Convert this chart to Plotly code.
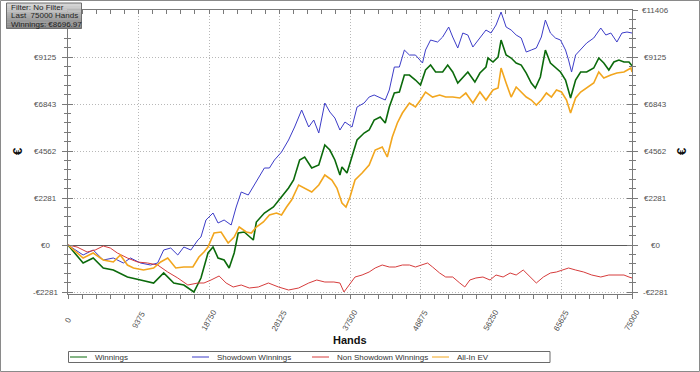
import plotly.graph_objects as go

# ---------------- data ----------------
hands_winnings = [0, 2009, 3348, 4688, 6027, 7902, 9643, 11384, 12723, 14062,
                  15402, 16741, 17679, 18616, 19286, 19955, 20759, 21429, 22098, 22634,
                  23437, 24643, 25045, 26116, 27321, 28393, 29330, 30000, 30804, 31473,
                  32411, 33348, 34152, 34822, 35491, 36161, 36429, 37098, 37768, 38438,
                  39375, 40045, 40714, 41518, 42188, 42723, 43393, 44063, 44732, 45402,
                  46205, 46875, 47545, 48214, 48884, 49821, 50491, 51161, 51830, 52500,
                  53170, 54107, 54777, 55580, 55848, 56518, 57188, 57589, 58259, 58929,
                  59598, 60268, 60938, 61607, 62143, 62813, 63482, 64152, 64821, 65491,
                  66161, 66563, 66830, 67500, 68170, 68973, 69911, 70580, 71250, 71920,
                  72589, 73259, 73929, 74598, 75000]
winnings = [0, -874, -631, -1116, -1213, -1553, -1699, -1844, -1359, -1844,
            -1941, -2281, -1601, -388, -97, -631, -728, -1116, -388, 582,
            631, 243, 1116, 1553, 1844, 2329, 2766, 3154, 4125, 4271,
            3737, 3882, 4853, 4610, 4125, 3397, 3785, 3494, 4271, 5096,
            5435, 5581, 6066, 6212, 5921, 6697, 7377, 7425, 8250, 8250,
            8007, 7765, 8493, 8735, 8396, 8396, 8735, 8396, 7862, 8153,
            8396, 7910, 8347, 8638, 9075, 8881, 9124, 9949, 9221, 9075,
            8832, 8735, 8347, 7862, 7619, 8153, 9463, 8832, 8590, 8396,
            8007, 7522, 7134, 8007, 8396, 8396, 8590, 9075, 8832, 8493,
            8881, 8978, 8881, 8881, 8697]

hands_showdown = [0, 2009, 3348, 4688, 6027, 7366, 8304, 9643, 10982, 11920,
                  12723, 13661, 14598, 15402, 16339, 17277, 17679, 18348, 19286, 19955,
                  20759, 21697, 22366, 23036, 23973, 24777, 25446, 26116, 26786, 27455,
                  28393, 29330, 30134, 31071, 32009, 32679, 33348, 34152, 34822, 35491,
                  36161, 36830, 37768, 38438, 39375, 40045, 40714, 41384, 42188, 42723,
                  43393, 44063, 44732, 45402, 46205, 47143, 47545, 48214, 49152, 49821,
                  50625, 51161, 51830, 52500, 53170, 53839, 54777, 55580, 56250, 56920,
                  57589, 58259, 58929, 59598, 60268, 60938, 61607, 62277, 62946, 63482,
                  64152, 64821, 65491, 66161, 66563, 66964, 67500, 68170, 68973, 69911,
                  70848, 71518, 72188, 72992, 73661, 74331, 75000]
showdown = [0, -485, -243, -728, -631, -874, -631, -874, -971, -874,
            -243, -146, -485, -97, -243, 243, 388, 1213, 1553, 1068,
            1213, 971, 1844, 2572, 2427, 2912, 3300, 3737, 3737, 4125,
            4513, 5096, 5727, 6552, 5727, 6066, 5435, 6891, 6454, 6163,
            5581, 5969, 5727, 6697, 6891, 7182, 7280, 7182, 7037, 7522,
            8638, 8638, 9463, 9221, 9221, 8832, 9463, 9949, 9852, 10094,
            10580, 10094, 9560, 10288, 10191, 9609, 10046, 10434, 10288, 10677,
            11307, 10580, 10434, 10191, 10046, 9366, 9463, 9560, 10094, 10919,
            10288, 10046, 9949, 9463, 8978, 8396, 9221, 9463, 9803, 10046,
            10531, 10191, 10288, 9852, 10288, 10337, 10288]

hands_nonshowdown = [0, 1205, 2545, 3616, 4688, 5625, 6563, 7902, 9241, 10580,
                     11920, 13259, 14598, 15938, 17277, 18081, 19018, 20090, 21027, 21965,
                     23036, 24107, 25313, 26652, 27991, 29331, 30670, 32009, 33081, 34152,
                     35358, 36161, 36697, 37366, 38170, 39108, 40045, 40849, 41786, 42724,
                     43527, 44465, 45402, 46206, 47143, 47813, 48483, 49420, 50224, 51161,
                     52099, 52768, 53438, 54242, 55179, 56117, 56920, 57858, 58795, 59599,
                     60536, 61474, 62277, 63215, 64152, 64956, 65894, 66563, 67501, 68572,
                     69644, 70849, 71920, 72992, 73929, 74599, 75000]
nonshowdown = [0, -97, -340, -243, -49, -146, -388, -631, -825, -874,
               -971, -1310, -1601, -1941, -1844, -1844, -1699, -1504, -1844, -2038,
               -1941, -2087, -2038, -1844, -2038, -2184, -2087, -1844, -1699, -1796,
               -1796, -1844, -2281, -1941, -1553, -1456, -1310, -1116, -971, -1068,
               -1068, -971, -971, -1068, -971, -874, -1068, -1359, -1553, -1553,
               -1844, -2038, -1699, -1601, -1553, -1699, -1456, -1553, -1359, -1456,
               -1213, -1553, -1844, -1553, -1359, -1310, -1213, -1116, -1213, -1310,
               -1456, -1553, -1456, -1456, -1456, -1553, -1601]

hands_allin = [0, 2009, 3348, 4688, 6027, 6964, 7902, 8705, 10045, 11384,
               12322, 13259, 14331, 15402, 16607, 17411, 18081, 18616, 19420, 20357,
               21295, 22098, 22768, 23706, 24375, 25045, 25982, 26786, 27724, 28393,
               29063, 29732, 30670, 31473, 32411, 33348, 34152, 35090, 35759, 36429,
               36965, 37500, 38170, 39108, 40045, 40849, 41786, 42456, 43125, 43795,
               44465, 45402, 46205, 46875, 47545, 48483, 49420, 50224, 51161, 52099,
               52902, 53840, 54777, 55580, 56518, 57188, 57589, 58259, 58929, 59598,
               60268, 60938, 61607, 62277, 62946, 63617, 64286, 64956, 65626, 66295,
               66830, 67500, 68170, 68973, 69911, 70580, 71250, 72188, 72992, 73929,
               74867, 75000]
allin_ev = [0, -631, -388, -728, -825, -485, -971, -1116, -1213, -1116,
            -825, -631, -1116, -1068, -1068, -582, -340, -97, 582, 631,
            97, 388, 874, 631, 582, 874, 1116, 1456, 1553, 1456,
            1844, 2184, 2912, 2766, 2572, 2912, 3397, 3154, 2766, 2038,
            1844, 2329, 3154, 3494, 3882, 4610, 4756, 4271, 5241, 5921,
            6406, 6891, 6697, 7037, 7425, 7182, 7280, 7182, 7182, 7134,
            7377, 6891, 7425, 7037, 7522, 7619, 8590, 7862, 7182, 7668,
            7425, 7182, 7037, 6794, 7037, 7377, 7182, 7522, 7425, 7037,
            6406, 7134, 7425, 7619, 7862, 8396, 8105, 8250, 8347, 8396,
            8590, 8396]

series_names = ["Winnings", "Showdown Winnings", "Non Showdown Winnings", "All-In EV"]
x_ticks = [0, 9375, 18750, 28125, 37500, 46875, 56250, 65625, 75000]
x_tick_labels = ["0", "9375", "18750", "28125", "37500", "46875", "56250", "65625", "75000"]
y_ticks = [-2281, 0, 2281, 4562, 6843, 9125, 11406]
y_tick_labels = ["-€2281", "€0", "€2281", "€4562", "€6843", "€9125", "€11406"]
info_lines = ["Filter: No Filter", "Last\u00a0 75000 Hands", "Winnings: €8696.97"]

# ---------------- styling ----------------
W, H = 700, 372
L, R, T, B = 68, 632, 10, 294          # plot area in pixels
Y_MIN, Y_MAX = -2378, 11406
COLORS = ["#0b6a0b", "#3c3cc8", "#d63c3c", "#f2a61e"]
WIDTHS = [1.6, 1.0, 1.0, 1.6]
AX = "#7a7a7a"
GRID = "#b8b8b8"
GRID_DASH = "1px,2px"
LBL = "#505050"
FONT = "Arial, Liberation Sans, sans-serif"


def px(x):
    return (x - L) / (R - L)


def py(y):
    return (B - y) / (B - T)


fig = go.Figure()
data = [(hands_winnings, winnings), (hands_showdown, showdown),
        (hands_nonshowdown, nonshowdown), (hands_allin, allin_ev)]
for (hx, hy), name, col, w in zip(data, series_names, COLORS, WIDTHS):
    fig.add_trace(go.Scatter(x=hx, y=hy, name=name, mode="lines",
                             line=dict(color=col, width=w), showlegend=False))

# empty helper traces so the overlay axes are drawn
fig.add_trace(go.Scatter(x=[], y=[], xaxis="x2", yaxis="y2", showlegend=False))
fig.add_trace(go.Scatter(x=[], y=[], xaxis="x", yaxis="y3", showlegend=False))
fig.add_trace(go.Scatter(x=[], y=[], xaxis="x", yaxis="y4", showlegend=False))

xminor = dict(tickmode="linear", tick0=0, dtick=1875, ticklen=4, tickcolor=AX, showgrid=False)
yminor = dict(tickmode="linear", tick0=0, dtick=2281.2 / 5, ticklen=3, tickcolor=AX, showgrid=False)

common_y = dict(range=[Y_MIN, Y_MAX], tickmode="array", tickvals=y_ticks,
                showticklabels=False, ticklen=5, tickcolor=AX,
                showline=True, linecolor=AX, linewidth=1)

fig.update_layout(
    width=W, height=H,
    margin=dict(l=L, r=W - R, t=T, b=H - B, autoexpand=False),
    paper_bgcolor="white", plot_bgcolor="white",
    showlegend=False,
    xaxis=dict(range=[0, 75000], tickmode="array", tickvals=x_ticks, showticklabels=False,
               ticks="outside", ticklen=4, tickcolor=AX,
               minor=dict(xminor, ticks="outside"),
               showline=True, linecolor=AX, linewidth=1,
               showgrid=True, gridcolor=GRID, griddash=GRID_DASH, gridwidth=1, zeroline=False),
    xaxis2=dict(overlaying="x", side="top", range=[0, 75000], tickmode="array", tickvals=x_ticks,
                showticklabels=False, ticks="inside", ticklen=4, tickcolor=AX,
                minor=dict(xminor, ticks="inside"),
                showline=True, linecolor=AX, linewidth=1, showgrid=False, zeroline=False),
    yaxis=dict(common_y, side="left", ticks="outside",
               minor=dict(yminor, ticks="outside"),
               showgrid=True, gridcolor=GRID, griddash=GRID_DASH, gridwidth=1,
               zeroline=True, zerolinecolor="#5a5a5a", zerolinewidth=1),
    yaxis2=dict(common_y, overlaying="y", side="right", ticks="outside",
                minor=dict(yminor, ticks="outside"), showgrid=False, zeroline=False),
    yaxis3=dict(common_y, overlaying="y", side="left", ticks="inside",
                minor=dict(yminor, ticks="inside"), showgrid=False, zeroline=False),
    yaxis4=dict(common_y, overlaying="y", side="right", ticks="inside",
                minor=dict(yminor, ticks="inside"), showgrid=False, zeroline=False),
)

shapes = []
annotations = []

# outer image border
shapes.append(dict(type="rect", xref="paper", yref="paper",
                   x0=px(0.5), x1=px(W - 0.5), y0=py(H - 0.5), y1=py(0.5),
                   line=dict(color="#8a8a8a", width=1), fillcolor="rgba(0,0,0,0)", layer="above"))

# y tick labels (centred columns on both sides)
for v, t in zip(y_ticks, y_tick_labels):
    if v != max(y_ticks):
        annotations.append(dict(x=px(45.5), xref="paper", y=v, yref="y", text=t, showarrow=False,
                                xanchor="center", yanchor="middle",
                                font=dict(family=FONT, size=8, color=LBL)))
    annotations.append(dict(x=px(655), xref="paper", y=v, yref="y", text=t, showarrow=False,
                            xanchor="center", yanchor="middle",
                            font=dict(family=FONT, size=8, color=LBL)))

# x tick labels, rotated
for v, t in zip(x_ticks, x_tick_labels):
    annotations.append(dict(x=v, xref="x", y=py(320.5), yref="paper", text=t, showarrow=False,
                            textangle=-60, xanchor="center", yanchor="middle",
                            font=dict(family=FONT, size=8, color=LBL)))

# axis titles
annotations.append(dict(x=0.5, xref="paper", y=py(339.5), yref="paper", text="<b>Hands</b>",
                        showarrow=False, xanchor="center", yanchor="middle",
                        font=dict(family=FONT, size=11, color="#111111")))
for xp in (17, 681):
    annotations.append(dict(x=px(xp), xref="paper", y=py(152), yref="paper", text="<b>€</b>",
                            showarrow=False, textangle=-90, xanchor="center", yanchor="middle",
                            font=dict(family=FONT, size=13, color="#111111")))

# legend box
shapes.append(dict(type="rect", xref="paper", yref="paper",
                   x0=px(68.5), x1=px(550), y0=py(362.5), y1=py(351.5),
                   line=dict(color="#6a6a6a", width=1), fillcolor="white", layer="above"))
leg_line_x = [70, 192, 312, 432]
for lx, name, col in zip(leg_line_x, series_names, COLORS):
    shapes.append(dict(type="line", xref="paper", yref="paper",
                       x0=px(lx), x1=px(lx + 17), y0=py(357), y1=py(357),
                       line=dict(color=col, width=1), layer="above"))
    annotations.append(dict(x=px(lx + 23), xref="paper", y=py(357.3), yref="paper", text=name,
                            showarrow=False, xanchor="left", yanchor="middle",
                            font=dict(family=FONT, size=8, color="#333333")))

# info box (top-left) with vertical grey gradient
bx0, bx1, by0, by1 = 6.5, 81.5, 3, 28.5
nb = 12
for i in range(nb):
    c = int(212 - (212 - 132) * i / (nb - 1))
    ya = by0 + (by1 - by0) * i / nb
    yb = by0 + (by1 - by0) * (i + 1) / nb
    shapes.append(dict(type="rect", xref="paper", yref="paper",
                       x0=px(bx0), x1=px(bx1), y0=py(yb + 0.3), y1=py(ya),
                       line=dict(width=0), fillcolor=f"rgb({c},{c},{c})", layer="above"))
shapes.append(dict(type="rect", xref="paper", yref="paper",
                   x0=px(bx0), x1=px(bx1), y0=py(by1), y1=py(by0),
                   line=dict(color="#6e6e6e", width=1), fillcolor="rgba(0,0,0,0)", layer="above"))
for i, t in enumerate(info_lines):
    annotations.append(dict(x=px(8.5), xref="paper", y=py(7.5 + 8.5 * i), yref="paper", text=t,
                            showarrow=False, xanchor="left", yanchor="middle",
                            font=dict(family=FONT, size=8, color="#1e1e1e")))

fig.update_layout(shapes=shapes, annotations=annotations)
fig.write_html("out.html", config={"displayModeBar": False},
               post_script="document.body.style.margin='0px';document.body.style.padding='0px';")
